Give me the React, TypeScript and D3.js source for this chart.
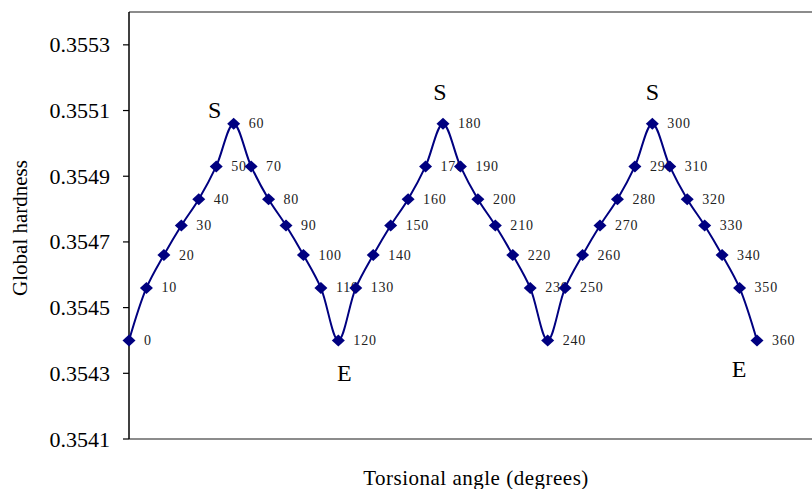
import React from "react";
import * as d3 from "d3";

// torsional angle (degrees) and global hardness values
const angles = [
  0, 10, 20, 30, 40, 50, 60, 70, 80, 90, 100, 110, 120,
  130, 140, 150, 160, 170, 180, 190, 200, 210, 220, 230, 240,
  250, 260, 270, 280, 290, 300, 310, 320, 330, 340, 350, 360,
];
const hardness = [
  0.35440, 0.35456, 0.35466, 0.35475, 0.35483, 0.35493, 0.35506,
  0.35493, 0.35483, 0.35475, 0.35466, 0.35456, 0.35440,
  0.35456, 0.35466, 0.35475, 0.35483, 0.35493, 0.35506,
  0.35493, 0.35483, 0.35475, 0.35466, 0.35456, 0.35440,
  0.35456, 0.35466, 0.35475, 0.35483, 0.35493, 0.35506,
  0.35493, 0.35483, 0.35475, 0.35466, 0.35456, 0.35440,
];
const yTicks = [0.3541, 0.3543, 0.3545, 0.3547, 0.3549, 0.3551, 0.3553];

// S / E annotations anchored on data points
const notes = [
  { angle: 60, text: "S", dx: -19, dy: -6 },
  { angle: 180, text: "S", dx: -3, dy: -24 },
  { angle: 300, text: "S", dx: 0, dy: -24 },
  { angle: 120, text: "E", dx: 6, dy: 41 },
  { angle: 360, text: "E", dx: -18, dy: 37 },
];

const font = "'Liberation Serif', 'Times New Roman', serif";
const navy = "#000080";

export default function App() {
  const width = 812;
  const height = 489;
  const left = 129;
  const top = 12;
  const bottom = 439;

  const x = d3.scaleLinear().domain([0, 360]).range([left, 757]);
  const y = d3.scaleLinear().domain([0.3541, 0.3554]).range([bottom, top]);

  const pts = angles.map((a, i) => ({ a, v: hardness[i] }));
  const path = d3
    .line<{ a: number; v: number }>()
    .x((d) => x(d.a))
    .y((d) => y(d.v))
    .curve(d3.curveCatmullRom.alpha(0.5))(pts);

  const diamond = "M0,-6L6.5,0L0,6L-6.5,0Z";

  return (
    <svg
      width={width}
      height={height}
      style={{ position: "absolute", left: 0, top: 0, background: "#fff" }}
      fontFamily={font}
    >
      {/* frame */}
      <line x1={left} x2={width} y1={top} y2={top} stroke="#666" strokeWidth={1.5} />
      <line x1={left} x2={width} y1={bottom} y2={bottom} stroke="#666" strokeWidth={1.5} />
      <line x1={left} x2={left} y1={top} y2={bottom} stroke="#000" strokeWidth={1.5} />

      {/* y ticks */}
      {yTicks.map((t) => (
        <g key={t}>
          <line x1={left - 6} x2={left} y1={y(t)} y2={y(t)} stroke="#000" strokeWidth={1.2} />
          <text
            x={110}
            y={y(t)}
            textAnchor="end"
            dominantBaseline="central"
            fontSize={22}
            fill="#000"
          >
            {t.toFixed(4)}
          </text>
        </g>
      ))}

      {/* point labels under the line and markers */}
      {pts.map((d) => (
        <text
          key={"l" + d.a}
          x={x(d.a) + 15}
          y={y(d.v)}
          dominantBaseline="central"
          fontSize={14}
          letterSpacing={0.8}
          fill="#222"
        >
          {d.a}
        </text>
      ))}

      <path d={path || ""} fill="none" stroke={navy} strokeWidth={2} />

      {pts.map((d) => (
        <path
          key={"m" + d.a}
          d={diamond}
          transform={`translate(${x(d.a)},${y(d.v)})`}
          fill={navy}
        />
      ))}

      {notes.map((n, i) => {
        const v = hardness[angles.indexOf(n.angle)];
        return (
          <text
            key={"n" + i}
            x={x(n.angle) + n.dx}
            y={y(v) + n.dy}
            textAnchor="middle"
            fontSize={24}
            fill="#000"
          >
            {n.text}
          </text>
        );
      })}

      {/* axis titles */}
      <text x={476} y={485} textAnchor="middle" fontSize={21} letterSpacing={0.5} fill="#000">
        Torsional angle (degrees)
      </text>
      <text
        transform="translate(27,228) rotate(-90)"
        textAnchor="middle"
        fontSize={21}
        fill="#000"
      >
        Global hardness
      </text>
    </svg>
  );
}
